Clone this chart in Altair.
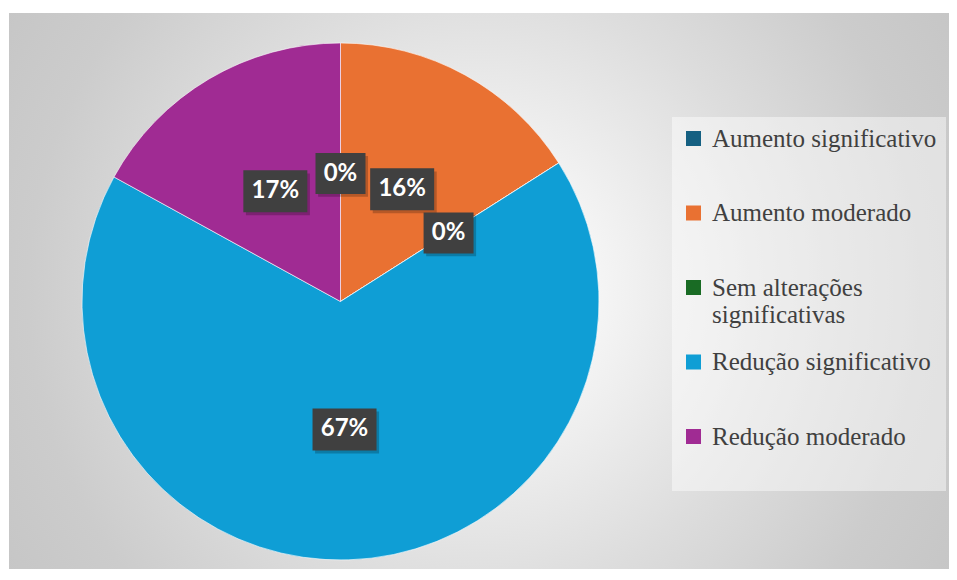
import altair as alt
import pandas as pd

# ---- data ----
categories = ["Aumento significativo", "Aumento moderado", "Sem alterações significativas",
              "Redução significativo", "Redução moderado"]
values = [0, 16, 0, 67, 17]
labels = ["0%", "16%", "0%", "67%", "17%"]
colors = ["#156082", "#E97132", "#196B24", "#0F9ED5", "#A02B93"]

df = pd.DataFrame({"cat": categories, "value": values, "label": labels,
                   "order": list(range(len(categories)))})

# ---- layout ----
W, H = 940, 556
CX, CY = 331.5, 288.5     # pie centre inside plot area
R = 258.5                 # pie radius
LR = 128                  # label radius

xscale = alt.Scale(domain=[-CX, W - CX], nice=False, zero=False)
yscale = alt.Scale(domain=[-(H - CY), CY], nice=False, zero=False)

bg_gradient = {
    "gradient": "radial", "x1": 0.5, "y1": 0.5, "r1": 0,
    "x2": 0.5, "y2": 0.5, "r2": 0.585,
    "stops": [
        {"offset": 0.0, "color": "#ffffff"},
        {"offset": 0.2, "color": "#f6f6f6"},
        {"offset": 0.55, "color": "#dddddd"},
        {"offset": 0.82, "color": "#cccccc"},
        {"offset": 1.0, "color": "#c6c6c6"},
    ],
}

bg = alt.Chart(pd.DataFrame({"k": [0]})).mark_rect(fill=bg_gradient).encode(
    x=alt.value(0), x2=alt.value("width"), y=alt.value(0), y2=alt.value("height")
)

base = alt.Chart(df)

pie = base.mark_arc(outerRadius=R, stroke="white", strokeWidth=0.6).encode(
    theta=alt.Theta("value:Q", stack=True),
    order=alt.Order("order:Q"),
    color=alt.Color(
        "cat:N",
        scale=alt.Scale(domain=categories, range=colors),
        sort=categories,
        legend=alt.Legend(
            title=" ", titleOrient="bottom", titleFontSize=20, titlePadding=12,
            orient="none", legendX=663, legendY=104,
            fillColor="rgba(255,255,255,0.45)", padding=9,
            symbolType="square", symbolSize=225, symbolStrokeWidth=0, symbolOpacity=1,
            labelFont="Times New Roman, Liberation Serif, serif", labelFontSize=25,
            labelColor="#404040",
            labelOffset=6, labelLimit=400, rowPadding=21.5, gridAlign="all",
            labelExpr="datum.label == 'Sem alterações significativas' ? ['Sem alterações', 'significativas'] : datum.label",
        ),
    ),
    x=alt.XDatum(0, type="quantitative", scale=xscale, axis=None),
    y=alt.YDatum(0, type="quantitative", scale=yscale, axis=None),
)

PATH3 = "M-1,-0.656L1,-0.656L1,0.656L-1,0.656Z"
PATH2 = "M-0.781,-0.64L0.781,-0.64L0.781,0.64L-0.781,0.64Z"
SH3 = "M-0.92,-0.56L1.08,-0.56L1.08,0.75L-0.92,0.75Z"
SH2 = "M-0.70,-0.55L0.86,-0.55L0.86,0.73L-0.70,0.73Z"

lab = base.transform_joinaggregate(total="sum(value)").transform_window(
    cum="sum(value)", sort=[alt.SortField("order")], frame=[None, 0]
).transform_calculate(
    mid="(datum.cum - datum.value / 2) / datum.total * 2 * PI",
    lx=f"{LR} * sin(datum.mid)",
    ly=f"{LR} * cos(datum.mid)",
    shp=f"length(datum.label) > 2 ? '{PATH3}' : '{PATH2}'",
    shd=f"length(datum.label) > 2 ? '{SH3}' : '{SH2}'",
)

xe = alt.X("lx:Q", scale=xscale, axis=None)
ye = alt.Y("ly:Q", scale=yscale, axis=None)

shadow = lab.mark_point(filled=True, fill="#000000", opacity=0.22, strokeWidth=0, size=4096).encode(
    x=xe, y=ye, shape=alt.Shape("shd:N", scale=None)
)
box = lab.mark_point(filled=True, fill="#404040", opacity=1, strokeWidth=0, size=4096).encode(
    x=xe, y=ye, shape=alt.Shape("shp:N", scale=None)
)
text = lab.mark_text(font="Lato", fontWeight="bold", fontSize=24, color="white").encode(
    x=xe, y=ye, text="label:N"
)

chart = alt.layer(bg, pie, shadow, box, text).properties(
    width=W, height=H,
    padding={"left": 1, "top": 5, "right": 0, "bottom": 0},
).configure_view(stroke=None)

chart.save("out.html", embed_options={"renderer": "svg", "actions": False})
